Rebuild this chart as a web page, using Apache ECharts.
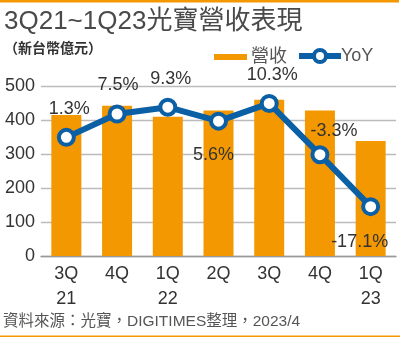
<!DOCTYPE html>
<html>
<head>
<meta charset="utf-8">
<script src="https://cdn.jsdelivr.net/npm/echarts@6/dist/echarts.min.js"></script>
<style>
  html, body { margin: 0; padding: 0; background: #fff; }
  #main { width: 407px; height: 344px; }
</style>
</head>
<body>
<div id="main"></div>
<script>
// 資料
const quarters = ["3Q\n21", "4Q", "1Q\n22", "2Q", "3Q", "4Q", "1Q\n23"]
const revenue = [416, 443, 411, 429, 461, 429, 339]
const yoy = [1.3, 7.5, 9.3, 5.6, 10.3, -3.3, -17.1]
const yTicks = [0, 100, 200, 300, 400, 500]

const FONT = "'Liberation Sans', Arial, 'Noto Sans CJK TC', sans-serif"
const ORANGE = "#f39800"
const BLUE = "#0b5fa5"

// 標籤微調 (位置, 偏移)
const labelPlace = [
  ["top", [3, 0]],
  ["top", [1, 0]],
  ["top", [3, 0]],
  ["bottom", [-5, 5]],
  ["top", [3, 0]],
  ["top", [14, 5]],
  ["bottom", [-11, 7]]
]

const myChart = echarts.init(document.getElementById("main"), null, { renderer: "canvas" })

myChart.setOption({
  animation: false,
  textStyle: { fontFamily: FONT },
  graphic: [
    { type: "rect", left: 0, top: 0, shape: { width: 399, height: 2.5 }, style: { fill: ORANGE } },
    { type: "rect", left: 0, top: 335.5, shape: { width: 400, height: 1.5 }, style: { fill: ORANGE } },
    {
      type: "text", left: 4, top: 9,
      style: { text: "3Q21~1Q23光寶營收表現", fill: "#4a4a4a", font: "26px " + FONT }
    },
    {
      type: "text", left: 4, top: 42,
      style: { text: "（新台幣億元）", fill: "#333", font: "bold 14px " + FONT }
    },
    {
      type: "text", left: 3, top: 314,
      style: { text: "資料來源：光寶，DIGITIMES整理，2023/4", fill: "#555", font: "15.5px " + FONT }
    }
  ],
  legend: [
    {
      data: ["營收"],
      left: 209, top: 43,
      icon: "rect",
      itemWidth: 33, itemHeight: 6,
      itemGap: 0,
      textStyle: { color: "#555", fontSize: 18, fontFamily: FONT, padding: [0, 0, 0, -1] }
    },
    {
      data: ["YoY"],
      left: 291, top: 42,
      itemWidth: 42, itemHeight: 15,
      lineStyle: { width: 6 },
      itemStyle: { borderWidth: 4 },
      textStyle: { color: "#555", fontSize: 18, fontFamily: FONT, padding: [0, 0, 0, -5] }
    }
  ],
  grid: { left: 41, right: 11, top: 86.5, bottom: 88 },
  xAxis: {
    type: "category",
    data: quarters,
    boundaryGap: true,
    axisLine: { lineStyle: { color: "#999", width: 1.3 } },
    axisTick: { length: 5, lineStyle: { color: "#999", width: 1.3 } },
    axisLabel: { color: "#333", fontSize: 18, lineHeight: 25, margin: 6, fontFamily: FONT, verticalAlign: "top" }
  },
  yAxis: [
    {
      type: "value",
      min: yTicks[0],
      max: yTicks[yTicks.length - 1],
      interval: 100,
      axisLine: { show: false },
      axisTick: { show: false },
      axisLabel: { color: "#333", fontSize: 18, margin: 6, fontFamily: FONT },
      splitLine: { lineStyle: { color: "#bbb", width: 1.3 } }
    },
    {
      type: "value",
      min: -30.2,
      max: 14.8,
      show: false,
      splitLine: { show: false }
    }
  ],
  series: [
    {
      name: "營收",
      type: "bar",
      data: revenue,
      barWidth: 30,
      itemStyle: { color: ORANGE }
    },
    {
      name: "YoY",
      type: "line",
      yAxisIndex: 1,
      data: yoy.map((v, i) => ({
        value: v,
        label: { position: labelPlace[i][0], offset: labelPlace[i][1] }
      })),
      symbol: "circle",
      symbolSize: 15,
      lineStyle: { color: BLUE, width: 6 },
      itemStyle: { color: "#fff", borderColor: BLUE, borderWidth: 4 },
      label: {
        show: true,
        distance: 10,
        color: "#333",
        fontSize: 18,
        fontFamily: FONT,
        formatter: p => p.value.toFixed(1) + "%"
      },
      z: 5
    }
  ]
})
</script>
</body>
</html>
